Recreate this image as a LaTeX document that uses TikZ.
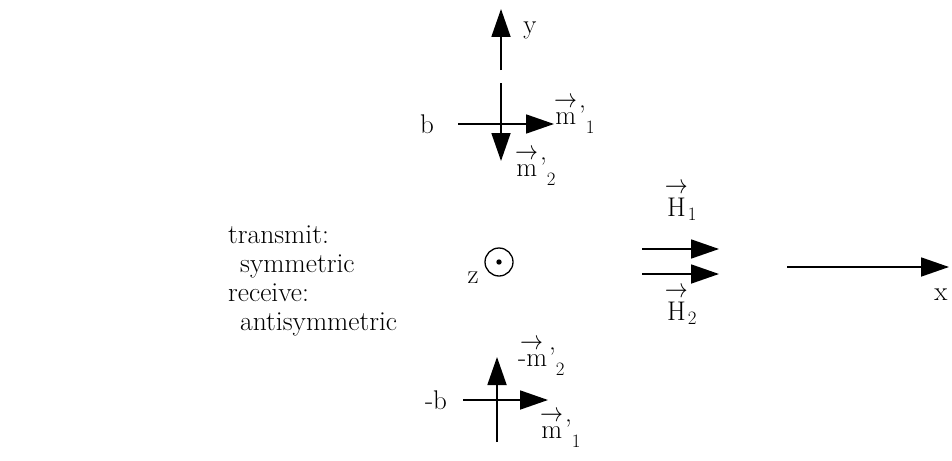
\RequirePackage{fix-cm}
\documentclass[tikz,border=0pt]{standalone}
\usepackage{amsmath}
\usetikzlibrary{arrows.meta}
\newcommand{\vecarr}[1]{\overset{\scalebox{0.85}[1]{$\textstyle\rightarrow$}}{#1}}
\newcommand{\mlabel}[2]{$\vecarr{\text{#1}}\kern2pt\text{'}_{\raisebox{-5pt}{$\scriptstyle #2$}}$}
\begin{document}
\begin{tikzpicture}[x=1pt,y=-1pt,
  ax/.style={line width=1.8pt,-{Triangle[length=28pt,width=19pt]}},
  lbl/.style={font=\fontsize{27}{31}\selectfont, inner sep=0pt},
  ml/.style={lbl, anchor=base west},
  txt/.style={font=\fontsize{27.5}{31}\selectfont, inner sep=0pt, anchor=base west}]
\useasboundingbox (0,0) rectangle (952,460);
% y axis
\coordinate (ya) at (501,70); \coordinate (yb) at (501,9);
\draw[ax] (ya) -- (yb);
\node[lbl] (ylab) at (530,30) {y};
% top cross (b)
\coordinate (t1) at (501,83); \coordinate (t2) at (501,161);
\coordinate (t3) at (458,124); \coordinate (t4) at (554,124);
\draw[ax] (t1) -- (t2);
\draw[ax] (t3) -- (t4);
\node[lbl] (blab) at (427,124) {b};
\node[ml] (m1t) at (554,124) {\mlabel{m}{1}};
\node[ml] (m2t) at (515,176) {\mlabel{m}{2}};
% z
\node[draw, circle, line width=1.3pt, minimum size=28pt, inner sep=0pt] (zc) at (499,262) {};
\fill (zc.center) circle (2.7pt);
\node[lbl] (zlab) at (473,278) {z};
% H arrows
\coordinate (h1a) at (642,249); \coordinate (h1b) at (719,249);
\coordinate (h2a) at (642,274); \coordinate (h2b) at (719,274);
\draw[ax] (h1a) -- (h1b);
\draw[ax] (h2a) -- (h2b);
\node[lbl] (H1) at (681,201) {$\vecarr{\mathrm{H}}_{1}$};
\node[lbl] (H2) at (681,305) {$\vecarr{\mathrm{H}}_{2}$};
% x axis
\coordinate (xa) at (787,267); \coordinate (xb) at (949,267);
\draw[ax] (xa) -- (xb);
\node[lbl] (xlab) at (941,295) {x};
% bottom cross (-b)
\coordinate (u1) at (497,442); \coordinate (u2) at (497,357);
\coordinate (u3) at (463,400); \coordinate (u4) at (548,400);
\draw[ax] (u1) -- (u2);
\draw[ax] (u3) -- (u4);
\node[lbl] (mblab) at (436,400) {-b};
\node[ml] (m2b) at (518,366) {\mlabel{-m}{2}};
\node[ml] (m1b) at (540,438) {\mlabel{m}{1}};
% text
\node[txt] (l1) at (228,243) {transmit:};
\node[txt] (l2) at (240,272) {symmetric};
\node[txt] (l3) at (228,301) {receive:};
\node[txt] (l4) at (240,330) {antisymmetric};
\end{tikzpicture}
\end{document}
